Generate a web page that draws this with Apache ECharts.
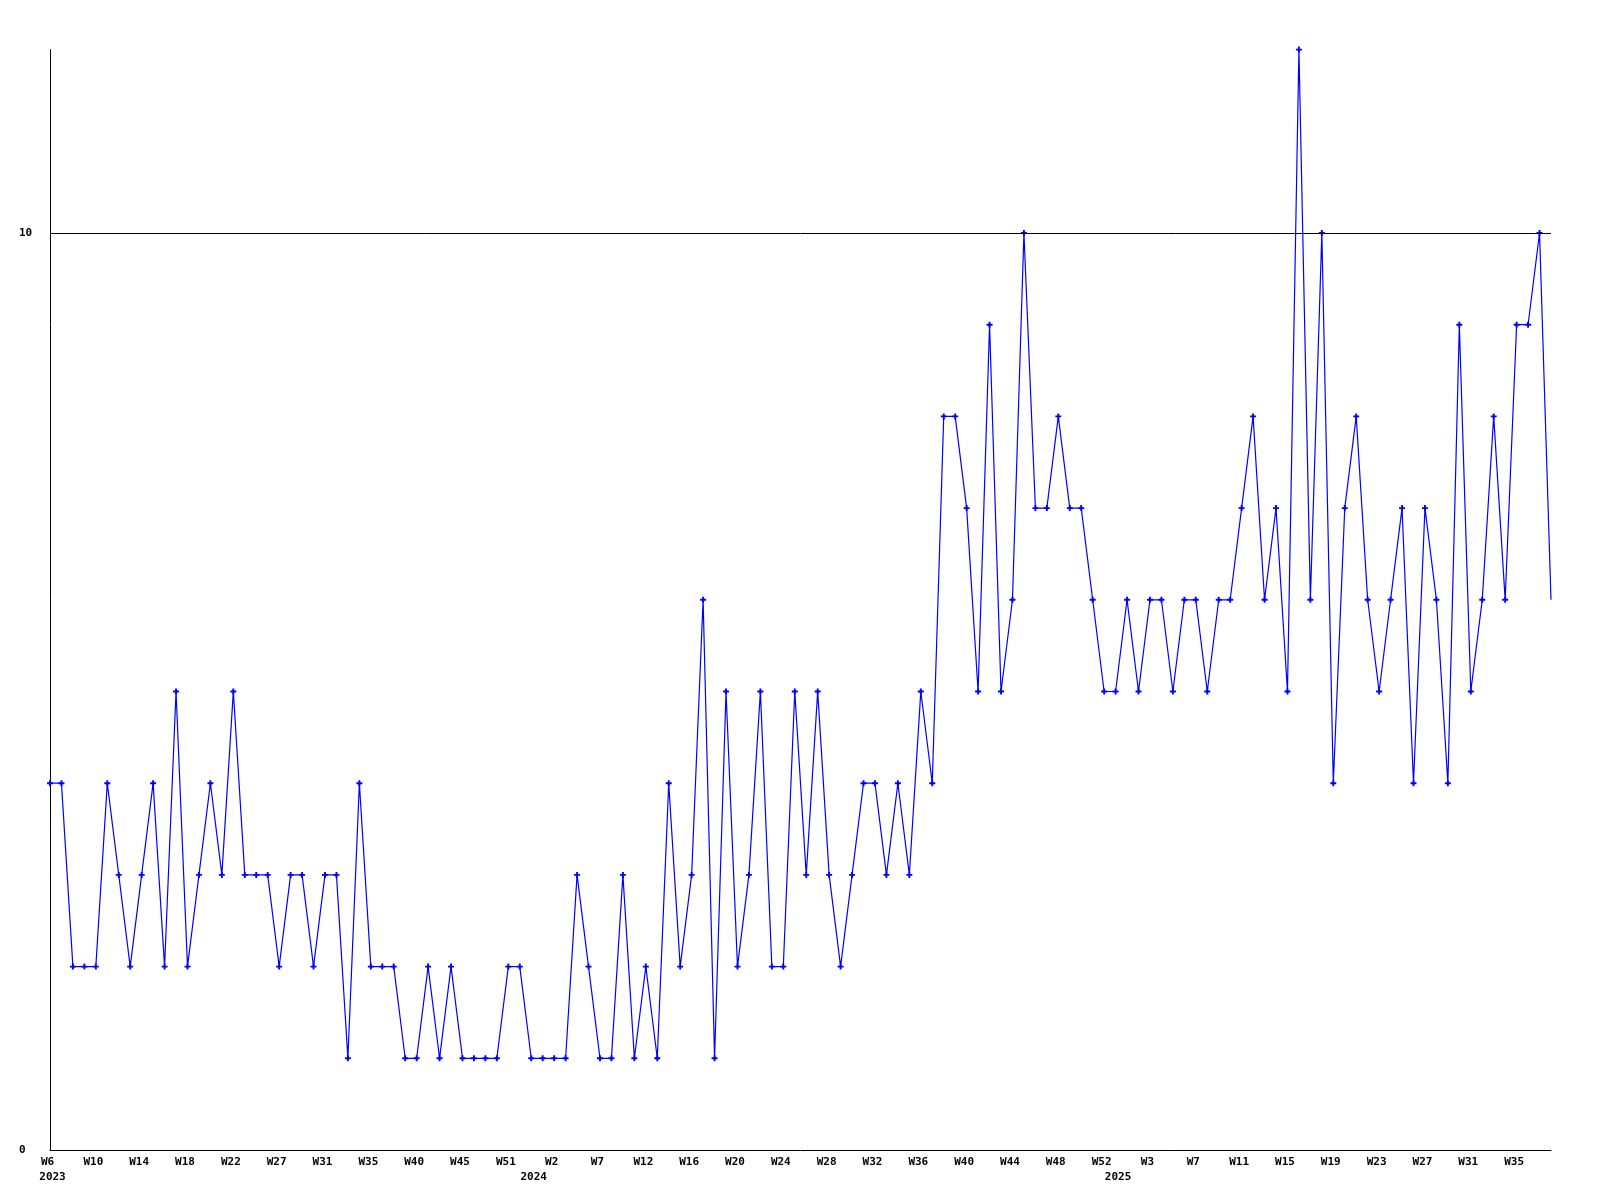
<!DOCTYPE html>
<html>
<head>
<meta charset="utf-8">
<script src="https://cdn.jsdelivr.net/npm/echarts@6/dist/echarts.min.js"></script>
<style>
  html, body { margin: 0; padding: 0; background: #fff; }
  #chart { width: 1600px; height: 1200px; }
</style>
</head>
<body>
<div id="chart"></div>
<script>
// Weekly values, one per point (2023 W6 ... 2025)
const values = [
  4,4,2,2,2,4,3,2,3,4,
  2,5,2,3,4,3,5,3,3,3,
  2,3,3,2,3,3,1,4,2,2,
  2,1,1,2,1,2,1,1,1,1,
  2,2,1,1,1,1,3,2,1,1,
  3,1,2,1,4,2,3,6,1,5,
  2,3,5,2,2,5,3,5,3,2,
  3,4,4,3,4,3,5,4,8,8,
  7,5,9,5,6,10,7,7,8,7,
  7,6,5,5,6,5,6,6,5,6,
  6,5,6,6,7,8,6,7,5,12,
  6,10,4,7,8,6,5,6,7,4,
  7,6,4,9,5,6,8,6,9,9,
  10,6
];

// Week tick labels, shown on every 4th point
const tickLabels = [
  'W6','W10','W14','W18','W22','W27','W31','W35','W40','W45','W51',
  'W2','W7','W12','W16','W20','W24','W28','W32','W36','W40','W44','W48','W52',
  'W3','W7','W11','W15','W19','W23','W27','W31','W35'
];
const tickEvery = 4;

// Year labels and the point index where each year starts
const yearNames = ['2023', '2024', '2025'];
const yearStartIndex = [0, 42, 93];

const referenceLine = 10;

const categories = values.map((_, i) => i);
const font = { fontFamily: 'DejaVu Sans Mono', fontWeight: 'bold', fontSize: 11, color: '#000' };

const chart = echarts.init(document.getElementById('chart'), null, { renderer: 'canvas' });
chart.setOption({
  animation: false,
  backgroundColor: '#ffffff',
  grid: { left: 50, right: 49, top: 49.6, bottom: 50, containLabel: false },
  xAxis: [
    {
      type: 'category',
      data: categories,
      boundaryGap: false,
      axisLine: { show: true, lineStyle: { color: '#000', width: 1 } },
      axisTick: { show: false },
      splitLine: { show: false },
      axisLabel: Object.assign({
        interval: tickEvery - 1,
        margin: 7,
        padding: [0, 5, 0, 0],
        formatter: (v, i) => (i % tickEvery === 0 ? (tickLabels[i / tickEvery] || '') : '')
      }, font)
    },
    {
      type: 'category',
      data: categories,
      boundaryGap: false,
      position: 'bottom',
      offset: 15,
      axisLine: { show: false },
      axisTick: { show: false },
      splitLine: { show: false },
      axisLabel: Object.assign({
        interval: (i) => yearStartIndex.indexOf(i) >= 0,
        margin: 7,
        padding: [0, 0, 0, 5],
        formatter: (v, i) => {
          const k = yearStartIndex.indexOf(Number(v));
          return k >= 0 ? yearNames[k] : '';
        }
      }, font)
    }
  ],
  yAxis: {
    type: 'value',
    min: 0,
    max: 12,
    interval: 10,
    axisLine: { show: true, lineStyle: { color: '#000', width: 1 } },
    axisTick: { show: false },
    splitLine: { show: false },
    axisLabel: Object.assign({
      align: 'left',
      margin: 31,
      showMaxLabel: false
    }, font)
  },
  series: [{
    type: 'line',
    xAxisIndex: 0,
    data: values.map((v, i) => (i === values.length - 1 ? { value: v, symbol: 'none' } : v)),
    symbol: 'path://M1.7,0H3.3V1.7H5V3.3H3.3V5H1.7V3.3H0V1.7H1.7Z',
    symbolSize: 6,
    showAllSymbol: true,
    itemStyle: { color: '#0000ff' },
    lineStyle: { color: '#0000ff', width: 1.2 },
    markLine: {
      silent: true,
      symbol: 'none',
      label: { show: false },
      lineStyle: { color: '#000', width: 1, type: 'solid' },
      data: [{ yAxis: referenceLine }]
    },
    z: 3
  }]
});
</script>
</body>
</html>
